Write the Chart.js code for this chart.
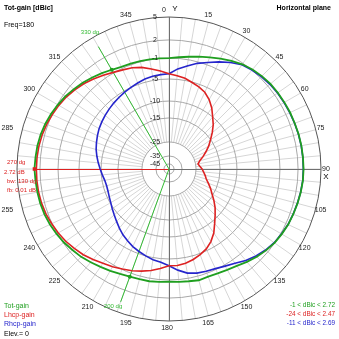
<!DOCTYPE html>
<html>
<head>
<meta charset="utf-8">
<script src="https://cdn.jsdelivr.net/npm/chart.js@4.4.0/dist/chart.umd.min.js"></script>
<style>
  html, body { margin: 0; padding: 0; background: #fff; }
  canvas { display: block; }
</style>
</head>
<body>
<canvas id="polar" width="339" height="339"></canvas>
<script>
// azimuth in degrees, clockwise from top, one point every 5 dg
const angles = [];
for (let a = 0; a < 360; a += 5) angles.push(a);

// gain in dBic (0, 5, 10 ... 355 dg)
const totGain = [
  -1.0, -0.8, -0.5, -0.1, 0.3, 0.8, 1.3, 1.8, 2.1, 2.3, 2.45, 2.5,
  2.55, 2.6, 2.62, 2.67, 2.7, 2.71, 2.72, 2.7, 2.62, 2.52, 2.42, 2.32,
  2.15, 1.97, 1.6, 1.2, 0.7, 0.2, -0.1, -0.3, -0.4, -0.3, -0.5, -0.6,
  -0.7, -0.6, -0.5, -0.5, -0.4, -0.2, 0.1, 0.4, 0.8, 1.2, 1.5, 1.85,
  2.1, 2.3, 2.45, 2.55, 2.6, 2.65, 2.72, 2.65, 2.6, 2.5, 2.35, 2.15,
  1.9, 1.6, 1.2, 0.85, 0.4, 0.0, -0.4, -0.7, -0.8, -0.9, -0.95, -1.0
];
const lhcpGain = [
  -4.0, -4.3, -4.6, -5.1, -5.6, -6.2, -7.2, -8.5, -10.0, -11.6, -13.4, -15.2,
  -17.2, -19.3, -21.2, -23.0, -24.0, -23.4, -22.5, -21.8, -21.0, -20.2, -18.8, -17.2,
  -15.6, -13.9, -12.3, -10.8, -9.3, -7.7, -6.4, -5.4, -4.8, -4.3, -3.9, -3.7,
  -3.7, -3.1, -2.5, -2.0, -1.5, -1.1, -0.7, -0.3, 0.2, 0.7, 1.1, 1.5,
  1.8, 2.05, 2.25, 2.38, 2.45, 2.47, 2.47, 2.45, 2.4, 2.3, 2.15, 1.95,
  1.7, 1.4, 1.0, 0.6, 0.1, -0.4, -0.9, -1.3, -1.6, -2.1, -2.8, -3.4
];
const rhcpGain = [
  -4.0, -3.0, -2.2, -1.3, -0.6, 0.2, 1.0, 1.7, 2.0, 2.2, 2.35, 2.45,
  2.5, 2.55, 2.6, 2.65, 2.68, 2.69, 2.69, 2.68, 2.6, 2.5, 2.4, 2.3,
  2.1, 1.9, 1.5, 1.0, 0.4, -0.3, -0.8, -1.2, -1.4, -1.6, -2.0, -2.8,
  -3.7, -4.3, -4.6, -5.0, -5.5, -6.0, -6.6, -7.2, -7.9, -8.6, -9.2, -9.7,
  -10.2, -10.6, -10.9, -11.0, -10.8, -10.3, -9.8, -9.3, -8.8, -8.3, -7.9, -7.5,
  -7.1, -6.8, -6.5, -6.2, -5.9, -5.6, -5.3, -5.0, -4.7, -4.4, -4.2, -4.1
];

// rings of the dB scale and where they sit (fraction of the outer radius)
const ringDb = [5, 2, -1, -5, -10, -15, -25, -35, -45];
const ringPos = [1, 0.849, 0.730, 0.592, 0.447, 0.336, 0.178, 0.086, 0.033];
// 270 and 330 are covered by the cursor texts
const angleTicks = [0, 15, 30, 45, 60, 75, 90, 105, 120, 135, 150, 165, 180,
  195, 210, 225, 240, 255, 285, 300, 315, 345];
const markerAngles = [330, 200];
const peakAngle = 270;

const GREEN = '#1f9f1f', RED = '#dd2222', BLUE = '#2525cc';

// MMANA style log-ish radius
function mapDb(db) {
  if (db >= ringDb[0]) return 1;
  for (let i = 0; i < ringDb.length - 1; i++) {
    if (db >= ringDb[i + 1]) {
      const t = (db - ringDb[i + 1]) / (ringDb[i] - ringDb[i + 1]);
      return ringPos[i + 1] + t * (ringPos[i] - ringPos[i + 1]);
    }
  }
  return Math.max(0, ringPos[ringPos.length - 1] * (db + 55) / 10);
}

const idx = (a) => angles.indexOf(a);

const frame = {
  id: 'frame',
  beforeDraw(chart) {
    const s = chart.scales.r, ctx = chart.ctx, R = s.drawingArea;
    ctx.save();
    ctx.strokeStyle = '#d6d6d6';
    ctx.lineWidth = 1;
    angles.forEach((a, i) => {
      const p1 = s.getPointPosition(i, R * ringPos[6]);
      const p2 = s.getPointPosition(i, R);
      ctx.beginPath();
      ctx.moveTo(p1.x, p1.y);
      ctx.lineTo(p2.x, p2.y);
      ctx.stroke();
    });
    ctx.restore();
  },
  beforeDatasetsDraw(chart) {
    const s = chart.scales.r, ctx = chart.ctx, R = s.drawingArea;
    const xc = s.xCenter, yc = s.yCenter;
    ctx.save();
    ctx.lineWidth = 1;
    // main axes
    ctx.strokeStyle = '#707070';
    ctx.beginPath();
    ctx.moveTo(xc + 0.5, yc - R); ctx.lineTo(xc + 0.5, yc + R);
    ctx.moveTo(xc, yc + 0.5); ctx.lineTo(xc + R, yc + 0.5);
    ctx.stroke();
    // peak marker line
    const pk = s.getPointPosition(idx(peakAngle), s.getDistanceFromCenterForValue(mapDb(totGain[idx(peakAngle)])));
    ctx.strokeStyle = RED;
    ctx.beginPath();
    ctx.moveTo(xc, yc + 0.5); ctx.lineTo(pk.x, yc + 0.5);
    ctx.stroke();
    // cursor lines
    ctx.strokeStyle = '#33bb33';
    markerAngles.forEach(a => {
      const p = s.getPointPosition(a / 5, R * 0.93);
      ctx.beginPath();
      ctx.moveTo(xc, yc); ctx.lineTo(p.x, p.y);
      ctx.stroke();
    });
    ctx.restore();
  },
  afterDraw(chart) {
    const s = chart.scales.r, ctx = chart.ctx, R = s.drawingArea;
    const xc = s.xCenter, yc = s.yCenter;
    const F = '"Liberation Sans", Arial, sans-serif';
    const txt = (str, x, y, color, align, font) => {
      ctx.fillStyle = color;
      ctx.textAlign = align || 'left';
      ctx.textBaseline = 'middle';
      ctx.font = font || ('7px ' + F);
      ctx.fillText(str, x, y);
    };
    ctx.save();
    // angle labels
    angleTicks.forEach(a => {
      const p = s.getPointPosition(a / 5, R + 7);
      let dx = a === 0 ? -5 : -2;
      if (a === 255 || a === 285) dx = -8;
      txt(String(a), p.x + dx, p.y, '#222', 'center');
    });
    // ring labels
    ringDb.forEach((db, i) => {
      txt(String(db), xc - 14, yc - R * ringPos[i], '#222', 'center');
    });
    txt('Y', xc + 6, 9, '#000', 'center', '8px ' + F);
    txt('X', xc + R + 5, yc + 8, '#000', 'center', '8px ' + F);
    // headers
    txt('Tot-gain [dBic]', 4, 8, '#000', 'left', 'bold 7px ' + F);
    txt('Horizontal plane', 331, 8, '#000', 'right', 'bold 7px ' + F);
    txt('Freq=180', 4, 25, '#000', 'left');
    // cursor labels: upper one outside the ring, lower one just inside
    markerAngles.forEach(a => {
      const inside = a > 90 && a < 270;
      const p = s.getPointPosition(a / 5, inside ? R - 6 : R + 6);
      txt(a + ' dg', p.x + (inside ? -6 : 0), p.y, '#33bb33', 'center', '6px ' + F);
    });
    // peak info
    txt(peakAngle + ' dg', 7, 162, RED, 'left', '6px ' + F);
    txt(Math.max(...totGain).toFixed(2) + ' dB', 4, 172, RED, 'left', '6px ' + F);
    txt('bw: 130 dg', 7, 181, RED, 'left', '6px ' + F);
    txt('fb: 0.01 dB', 7, 190, RED, 'left', '6px ' + F);
    // legend
    txt('Tot-gain', 4, 306, GREEN);
    txt('Lhcp-gain', 4, 315.5, RED);
    txt('Rhcp-gain', 4, 324.5, BLUE);
    txt('Elev.= 0', 4, 334, '#000');
    const rng = (arr) => Math.round(Math.min(...arr)) + ' < dBic < ' + Math.max(...arr).toFixed(2);
    const small = '6.4px ' + F;
    txt(rng(totGain), 335, 305.5, GREEN, 'right', small);
    txt(rng(lhcpGain), 335, 314, RED, 'right', small);
    txt(rng(rhcpGain), 335, 323, BLUE, 'right', small);
    ctx.restore();
  }
};

new Chart(document.getElementById('polar'), {
  type: 'radar',
  data: {
    labels: angles,
    datasets: [
      {
        label: 'Tot-gain',
        data: totGain.map(mapDb),
        borderColor: GREEN,
        borderWidth: 1.8,
        fill: false,
        pointRadius: (c) => (markerAngles.includes(angles[c.dataIndex]) ? 2 : angles[c.dataIndex] === peakAngle ? 2.5 : 0),
        pointStyle: (c) => (angles[c.dataIndex] === peakAngle ? 'rect' : 'circle'),
        pointBackgroundColor: (c) => (angles[c.dataIndex] === peakAngle ? RED : GREEN),
        pointBorderWidth: 0
      },
      {
        label: 'Lhcp-gain',
        data: lhcpGain.map(mapDb),
        borderColor: RED,
        borderWidth: 1.6,
        fill: false,
        pointRadius: 0
      },
      {
        label: 'Rhcp-gain',
        data: rhcpGain.map(mapDb),
        borderColor: BLUE,
        borderWidth: 1.6,
        fill: false,
        pointRadius: 0
      }
    ]
  },
  options: {
    responsive: false,
    animation: false,
    devicePixelRatio: 1,
    layout: { padding: 17 },
    plugins: { legend: { display: false }, tooltip: { enabled: false } },
    scales: {
      r: {
        min: 0,
        max: 1,
        afterBuildTicks: (scale) => {
          scale.ticks = [0, ...ringPos.slice().reverse()].map(v => ({ value: v }));
        },
        ticks: { display: false },
        pointLabels: { display: false },
        angleLines: { display: false },
        grid: {
          circular: true,
          color: (c) => (c.tick && c.tick.value === 1 ? '#555' : '#a8a8a8'),
          lineWidth: 1
        }
      }
    }
  },
  plugins: [frame]
});
</script>
</body>
</html>
